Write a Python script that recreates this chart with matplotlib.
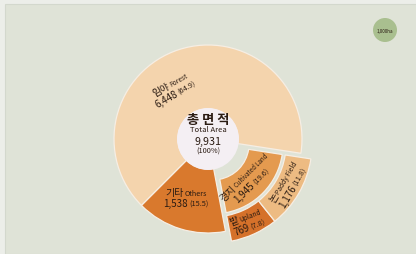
import matplotlib.pyplot as plt
from matplotlib import font_manager
from matplotlib.patches import Circle, Rectangle
import numpy as np

KR = 'Noto Sans CJK KR'
installed = {f.name for f in font_manager.fontManager.ttflist}
if 'Liberation Sans Narrow' in installed:
    LAT, k = 'Liberation Sans Narrow', 1.0
else:
    LAT, k = KR, 0.86
plt.rcParams['font.family'] = [LAT, KR, 'DejaVu Sans']

# land use (1,000ha)
main_values = [6448, 1538, 1945]      # forest, others, cultivated
main_shares = [64.9, 15.5, 19.6]
crop_values = [769, 1176]             # upland, paddy
crop_shares = [7.8, 11.8]
total_value = 9931

W, H = 416, 255
fig = plt.figure(figsize=(W / 100, H / 100), dpi=100)
fig.patch.set_facecolor('#eceee9')
ax = fig.add_axes([0, 0, 1, 1])

# scanned page panel
ax.add_patch(Rectangle((5, 0), W, H - 5, facecolor='#dfe3d7', edgecolor='#d3d8cd', lw=0.8))

cx, cy = 208, H - 140
edge = dict(edgecolor='#f6eee4', linewidth=0.9)

# the cultivated slice is centred on the lower right
cult_span = 360 * main_values[2] / sum(main_values)
start = 316 + cult_span / 2 - 360

wedges, _ = ax.pie(main_values, colors=['#f4d4ad', '#d9792d', '#e49a4f'],
                   startangle=start, radius=94, center=(cx, cy), frame=True,
                   wedgeprops=dict(width=64, **edge))

# pull the cultivated slice out and shrink it to the inner ring
wc = wedges[2]
mid = np.deg2rad((wc.theta1 + wc.theta2) / 2)
ccx, ccy = cx + 7 * np.cos(mid), cy + 7 * np.sin(mid)
wc.set_center((ccx, ccy))
wc.set_radius(70)
wc.set_width(34)

# outer ring splitting cultivated land into upland and paddy
outer, _ = ax.pie([main_values[0] + main_values[1]] + crop_values,
                  colors=['none', '#d5712a', '#edbb82'],
                  startangle=start, radius=99, center=(ccx, ccy), frame=True,
                  wedgeprops=dict(width=26, **edge))
outer[0].set_visible(False)

ax.add_patch(Circle((cx, cy), 31, facecolor='#f4eff3', edgecolor='none', zorder=3))

ax.set_xlim(0, W)
ax.set_ylim(0, H)
ax.set_aspect('equal')
ax.set_axis_off()

renderer = fig.canvas.get_renderer()
ink = '#2a1b12'


def block(x, y, lines, rot=0):
    # two-line label centred on (x, y from top), each line made of parts of
    # different sizes laid along a rotated baseline
    y = H - y
    a = np.deg2rad(rot)
    u = np.array([np.cos(a), np.sin(a)])
    n = np.array([np.sin(a), -np.cos(a)])      # points "down" the block
    for off, parts in zip([-1.0, 10.0], lines):
        texts, widths = [], []
        for s, size, fam in parts:
            t = ax.text(0, 0, s, fontsize=size, color=ink, family=fam,
                        ha='left', va='baseline', zorder=5)
            texts.append(t)
            widths.append(t.get_window_extent(renderer).width)
        total = sum(widths) + 1.5 * (len(widths) - 1)
        p = np.array([x, y]) + off * n - total / 2 * u
        for t, w in zip(texts, widths):
            t.set_position(p)
            t.set_rotation(rot)
            t.set_rotation_mode('anchor')
            p = p + (w + 1.5) * u


def num(v):
    return f'{v:,}'


big, small = 8.2 * k, 6.2 * k

# centre
ax.text(cx, H - 120, '총 면 적', ha='center', va='center', fontsize=9.5,
        family=KR, fontweight='bold', color=ink, zorder=5)
ax.text(cx, H - 130.5, 'Total Area', ha='center', va='center', fontsize=6.4 * k, color=ink, zorder=5)
ax.text(cx, H - 141.5, num(total_value), ha='center', va='center', fontsize=9 * k, color=ink, zorder=5)
ax.text(cx, H - 152, '(100%)', ha='center', va='center', fontsize=6.2 * k, color=ink, zorder=5)

block(172, 88, [[('임야', 7, KR), ('Forest', 5.6 * k, LAT)],
                [(num(main_values[0]), big, LAT), (f'({main_shares[0]})', small, LAT)]], rot=30)

block(186, 197, [[('기타', 7.2, KR), ('Others', 6 * k, LAT)],
                 [(num(main_values[1]), big, LAT), (f'({main_shares[1]})', small, LAT)]])

block(247, 180, [[('경지', 7, KR), ('Cultivated Land', 5.1 * k, LAT)],
                 [(num(main_values[2]), big, LAT), (f'({main_shares[2]})', small, LAT)]], rot=45)

block(287, 184, [[('논', 7.2, KR), ('Paddy Field', 5.6 * k, LAT)],
                 [(num(crop_values[1]), big, LAT), (f'({crop_shares[1]})', small, LAT)]], rot=60)

block(247, 221, [[('밭', 7.2, KR), ('Upland', 5.6 * k, LAT)],
                 [(num(crop_values[0]), big, LAT), (f'({crop_shares[0]})', small, LAT)]], rot=22)

# unit badge
ax.add_patch(Circle((385, H - 31), 12, facecolor='#a9bf8f', edgecolor='none'))
ax.text(385, H - 31, '1,000ha', ha='center', va='center', fontsize=3.8 * k, color=ink)

fig.savefig('out.png', dpi=100, facecolor=fig.get_facecolor())
